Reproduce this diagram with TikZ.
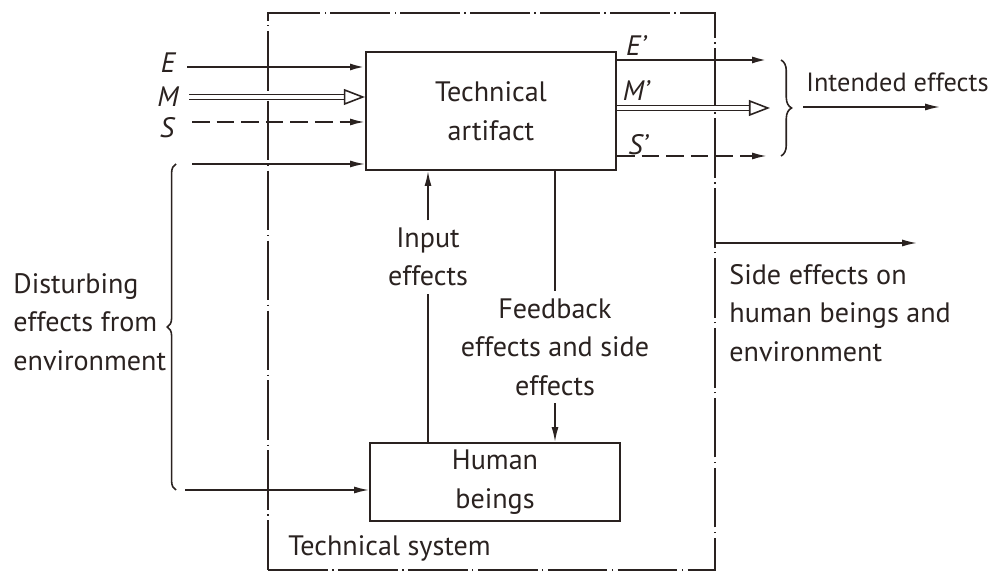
\documentclass[tikz,border=0pt]{standalone}
\usepackage{fontspec}
\setmainfont{PT Sans}
\usetikzlibrary{arrows.meta,decorations.pathreplacing}
\definecolor{ink}{HTML}{2A2220}
\tikzset{
  txt/.style={text=ink,font=\fontsize{16}{22}\selectfont,align=center,inner sep=4pt},
  lbl/.style={text=ink,font=\fontsize{16}{22}\selectfont\itshape,inner sep=0pt},
  box/.style={draw=ink,line width=1.2pt,minimum width=5cm,txt,inner sep=0pt},
  plain/.style={draw=ink,line width=0.9pt},
  flow/.style={plain,-{Latex[length=8.5pt,width=4pt]}},
  eflow/.style={flow,line width=1.3pt},
  sigflow/.style={flow,line width=1.1pt,dash pattern=on 10pt off 4pt},
  matflow/.style={draw=ink,line width=0.9pt,double,double distance=2pt,
    -{Triangle[open,length=12pt,width=9pt,line width=0.9pt]}},
  bracetip/.style={draw=ink,line width=0.9pt,decorate,decoration={brace,amplitude=#1}},
}
\begin{document}
\begin{tikzpicture}[x=0.02cm,y=-0.02cm]
\useasboundingbox (0,0) rectangle (997,573);
\node[draw=ink,line width=1.1pt,dash pattern=on 34pt off 2.5pt on 0.8pt off 2.5pt,
  minimum width=8.94cm,minimum height=11.14cm,inner sep=0pt] (sys) at (491.5,291.5) {};
\node[box,minimum height=2.36cm] (art) at (491,111) {Technical\\artifact};
\node[box,minimum height=1.56cm] (hum) at (495,482) {Human\\beings};

\node[lbl] (e) at (168,63) {E};
\node[lbl] (m) at (168,97) {M};
\node[lbl] (s) at (167,128) {S};
\coordinate (e0) at (187,67);
\coordinate (m0) at (189,97);
\coordinate (s0) at (192,122);
\coordinate (d0) at (192,164);
\coordinate (d1) at (185,490);
\draw[eflow] (e0) -- (e0 -| art.west);
\draw[matflow] (m0) -- (m0 -| art.west);
\draw[sigflow] (s0) -- (s0 -| art.west);
\draw[flow] (d0) -- (d0 -| art.west);
\draw[flow] (d1) -- (d1 -| hum.west);

\node[lbl] (e') at (636,46) {E'};
\node[lbl] (m') at (636,91) {M'};
\node[lbl] (s') at (638,145) {S'};
\coordinate (e1) at (767,60);
\coordinate (m1) at (770,108);
\coordinate (s1) at (767,156);
\draw[eflow] (e1 -| art.east) -- (e1);
\draw[matflow] (m1 -| art.east) -- (m1);
\draw[sigflow] (s1 -| art.east) -- (s1);
\draw[bracetip=6pt] (781,60) -- (781,156);
\node[txt,anchor=west,font=\fontsize{15}{20}\selectfont] (int) at (799,82) {Intended effects};
\coordinate (i0) at (803,107);
\coordinate (i1) at (940,107);
\draw[flow] (i0) -- (i1);

\draw[bracetip=5pt] (176,490) -- (176,164);
\node[txt,align=left,anchor=west] (dist) at (6,322) {Disturbing\\effects from\\environment};

\node[txt] (inp) at (428,257) {Input\\effects};
\draw[plain] (inp.south |- hum.north) -- (inp.south);
\draw[flow] (inp.north) -- (inp.north |- art.south);
\node[txt] (fb) at (555,347) {Feedback\\effects and side\\effects};
\draw[plain] (fb.north |- art.south) -- (fb.north);
\draw[flow] (fb.south) -- (fb.south |- hum.north);

\coordinate (se) at (917,243);
\draw[flow] (se -| sys.east) -- (se);
\node[txt,align=left,anchor=west] (side) at (722,313) {Side effects on\\human beings and\\environment};
\node[txt,anchor=west] (tsys) at (281,548) {Technical system};
\end{tikzpicture}
\end{document}
